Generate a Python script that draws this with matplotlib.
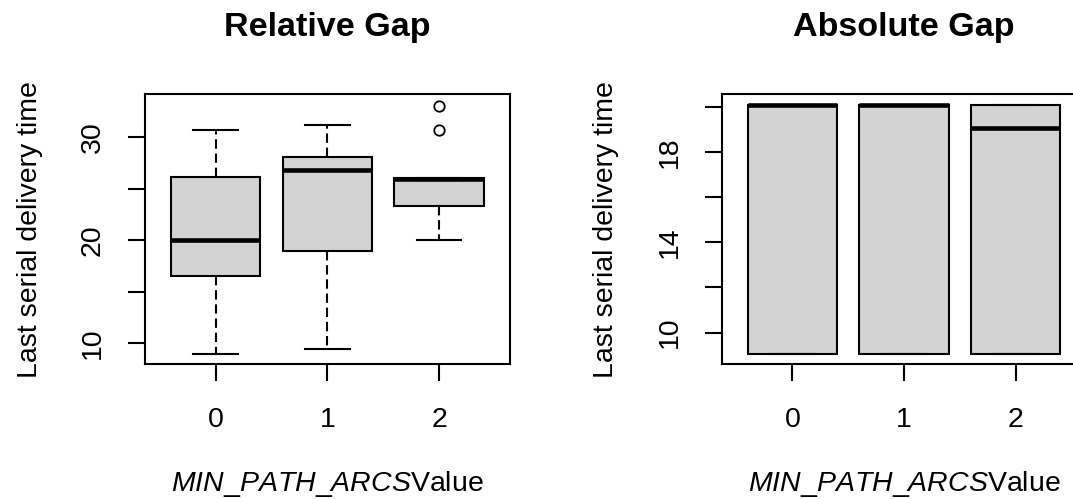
import numpy as np
import matplotlib
matplotlib.use("Agg")
import matplotlib.pyplot as plt

# ---------------- data ----------------
categories = ["0", "1", "2"]

rel_whislo = [8.93, 9.48, 20.0]
rel_q1 = [16.48, 18.95, 23.36]
rel_med = [20.0, 26.86, 25.98]
rel_q3 = [26.15, 28.06, 26.08]
rel_whishi = [30.68, 31.16, 26.08]
rel_fliers = [[], [], [30.70, 33.06]]

abs_whislo = [9.05, 9.05, 9.05]
abs_q1 = [9.05, 9.05, 9.05]
abs_med = [20.08, 20.08, 19.06]
abs_q3 = [20.08, 20.08, 20.08]
abs_whishi = [20.08, 20.08, 20.08]
abs_fliers = [[], [], []]

rel_yticks = [10, 15, 20, 25, 30]
rel_yticklabels = ["10", "", "20", "", "30"]
abs_yticks = [10, 12, 14, 16, 18, 20]
abs_yticklabels = ["10", "", "14", "", "18", ""]

titles = ["Relative Gap", "Absolute Gap"]
ylabel = "Last serial delivery time"
xlabel = r"$\mathit{MIN\_PATH\_ARCS}$Value"

# ---------------- style ----------------
plt.rcParams["font.family"] = ["Liberation Sans", "DejaVu Sans"]
plt.rcParams["mathtext.fontset"] = "custom"
plt.rcParams["mathtext.rm"] = "Liberation Sans"
plt.rcParams["mathtext.it"] = "Liberation Sans:italic"
plt.rcParams["mathtext.bf"] = "Liberation Sans:bold"

FS = 20.5
TFS = 24.6
LW = 1.5
W, H = 1073, 499
fig = plt.figure(figsize=(W / 100, H / 100), dpi=100)
fig.patch.set_facecolor("white")

ax_w = 364.7 / W
ax_h = 270.4 / H
ax_b = 1 - 364.4 / H
ax1 = fig.add_axes([145.0 / W, ax_b, ax_w, ax_h])
ax2 = fig.add_axes([721.7 / W, ax_b, ax_w, ax_h])

positions = np.arange(1, len(categories) + 1)


def make_stats(lo, q1, med, q3, hi, fl):
    return [dict(whislo=a, q1=b, med=c, q3=d, whishi=e, fliers=f)
            for a, b, c, d, e, f in zip(lo, q1, med, q3, hi, fl)]


def draw(ax, stats, ylim, yticks, yticklabels, title):
    ax.bxp(stats, positions=positions, widths=0.8, capwidths=0.4,
           patch_artist=True, showfliers=True, manage_ticks=False,
           boxprops=dict(facecolor="#D3D3D3", edgecolor="black", linewidth=LW),
           whiskerprops=dict(color="black", linewidth=LW,
                             linestyle=(0, (4.5, 2.3))),
           capprops=dict(color="black", linewidth=LW),
           medianprops=dict(color="black", linewidth=3.3,
                            solid_capstyle="butt"),
           flierprops=dict(marker="o", markerfacecolor="none",
                           markeredgecolor="black", markersize=7.5,
                           markeredgewidth=1.3, linestyle="none"))
    ax.set_xlim(0.367, 3.633)
    ax.set_ylim(*ylim)
    ax.set_xticks(positions)
    ax.set_xticklabels(categories)
    ax.set_yticks(yticks)
    ax.set_yticklabels(yticklabels)
    for s in ax.spines.values():
        s.set_linewidth(LW)
        s.set_color("black")
    ax.tick_params(axis="both", length=12, width=LW, color="black",
                   labelsize=FS, labelcolor="black")
    ax.tick_params(axis="x", pad=18.4)
    ax.tick_params(axis="y", pad=20.4)
    for lbl in ax.get_yticklabels():
        lbl.set_rotation(90)
        lbl.set_rotation_mode("anchor")
        lbl.set_ha("center")
        lbl.set_va("baseline")
    ax.set_title(title, fontsize=TFS, fontweight="bold", pad=41.8)
    ax.set_ylabel(ylabel, fontsize=FS)
    ax.yaxis.set_label_coords(-108.3 / 364.7, 0.5)
    ax.yaxis.label.set_rotation_mode("anchor")
    ax.yaxis.label.set_va("baseline")
    ax.yaxis.label.set_ha("center")
    ax.set_xlabel(xlabel, fontsize=FS)
    ax.xaxis.set_label_coords(0.5, -126.6 / 270.4)
    ax.xaxis.label.set_va("baseline")


draw(ax1, make_stats(rel_whislo, rel_q1, rel_med, rel_q3, rel_whishi, rel_fliers),
     (7.95, 34.19), rel_yticks, rel_yticklabels, titles[0])
draw(ax2, make_stats(abs_whislo, abs_q1, abs_med, abs_q3, abs_whishi, abs_fliers),
     (8.59, 20.57), abs_yticks, abs_yticklabels, titles[1])

fig.savefig("out.png", dpi=100, facecolor="white")
